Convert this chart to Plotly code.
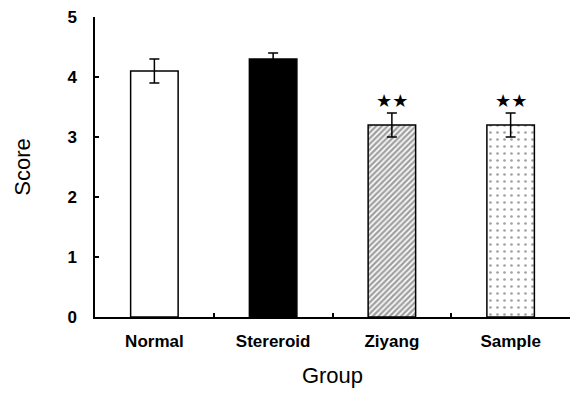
import plotly.graph_objects as go

# Group scores with standard error
groups = ["Normal", "Stereroid", "Ziyang", "Sample"]
scores = [4.1, 4.3, 3.2, 3.2]
errors = [0.2, 0.1, 0.2, 0.2]
marks = ["", "", "★★", "★★"]
y_ticks = [0, 1, 2, 3, 4, 5]

fills = ["white", "black", "white", "white"]
shapes = ["", "", "/", "."]
pattern_sizes = [8, 8, 4, 7]
pattern_solidity = [0.3, 0.3, 0.62, 0.12]

fig = go.Figure()
fig.add_trace(go.Bar(
    x=groups,
    y=scores,
    width=0.4,
    marker=dict(
        color=fills,
        line=dict(color="black", width=1.5),
        pattern=dict(shape=shapes, fgcolor="black", bgcolor="white",
                     size=pattern_sizes, solidity=pattern_solidity),
    ),
    error_y=dict(type="data", array=errors, color="black",
                 thickness=1.5, width=5),
    showlegend=False,
))

for g, s, e, m in zip(groups, scores, errors, marks):
    if m:
        fig.add_annotation(x=g, y=s + e, text=m, showarrow=False,
                           yanchor="bottom", yshift=0,
                           font=dict(family="DejaVu Sans", size=18, color="black"))

fig.update_layout(
    width=571, height=396,
    margin=dict(l=95, r=1, t=17, b=79),
    paper_bgcolor="white", plot_bgcolor="white",
    font=dict(family="Liberation Sans", color="black"),
    bargap=0.6,
)
fig.update_xaxes(
    range=[-0.5, 3.5],
    showline=True, linecolor="black", linewidth=2,
    ticks="inside", ticklen=4, tickwidth=1.5, tickcolor="black",
    tickson="boundaries",
    tickfont=dict(family="Liberation Sans", size=17, weight="bold"),
    ticklabelstandoff=8,
    title=dict(text="Group", font=dict(family="Liberation Sans", size=22),
               standoff=17),
    showgrid=False,
)
fig.update_yaxes(
    range=[0, 5],
    tickvals=y_ticks,
    showline=True, linecolor="black", linewidth=1.5,
    ticks="inside", ticklen=4, tickwidth=1.5, tickcolor="black",
    tickfont=dict(family="Liberation Sans", size=17, weight="bold"),
    ticklabelstandoff=13,
    title=dict(text="Score", font=dict(family="Liberation Sans", size=22),
               standoff=31),
    showgrid=False, zeroline=False,
)

fig.write_html("out.html")
